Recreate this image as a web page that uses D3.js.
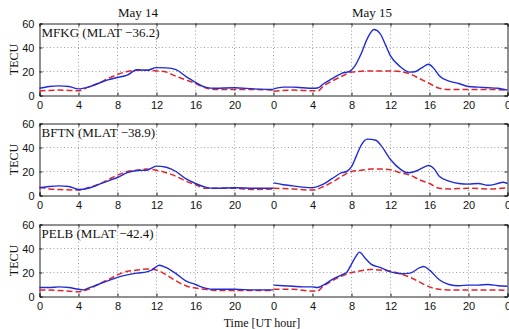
<!DOCTYPE html>
<html><head><meta charset="utf-8">
<script src="https://cdn.jsdelivr.net/npm/d3@7"></script>
<style>body{margin:0;background:#fff}svg{display:block}</style>
</head><body>
<script>
const stations = ["MFKG (MLAT \u221236.2)", "BFTN (MLAT \u221238.9)", "PELB (MLAT \u221242.4)"];
const dayLabels = ["May 14", "May 15"];
const xTickHours = [0,4,8,12,16,20,24,28,32,36,40,44,48];
const yTicks = [0,20,40,60];

// [hour within day, TECU]
const mfkgObsD1 = [[0,6],[1,7.5],[2,8],[3,7.5],[4,5.5],[5,7],[6,10],[7,13],[8,15],[9,17],[10,21.5],[11,21],[12,23.2],[13,23],[14,21.5],[15,16],[16,11],[17,7],[18,6],[20,6.5],[22,5.5],[24,5]];
const mfkgMedD1 = [[0,3.8],[2,4.5],[4,4],[5,7],[6,10],[7,14],[8,17.5],[9,20],[10,21],[11,21],[12,20.5],[13,19.5],[14,16],[15,13],[16,10],[17,6.5],[18,5],[20,5],[22,5],[24,4.5]];
const mfkgObsD2 = [[0,5.5],[1,7],[2,7],[3,6.5],[4,6],[4.6,6.5],[5,9],[6,14],[7,18.5],[7.8,20],[8.3,24],[9,35],[9.6,47],[10.3,55],[10.9,52],[11.5,42],[12,33],[13,24],[14,19.5],[14.5,19.8],[15.2,23],[15.9,26],[16.5,22],[17,16.5],[18,12],[19,10],[20,7.5],[21,7],[22,6.5],[23,6],[24,4.5]];
const mfkgMedD2 = [[0,3.6],[2,4.5],[4,4],[4.6,4],[5,7],[6,12],[7,16],[8,19.5],[10,20.5],[12,20.5],[13,20],[14,18],[15,14],[16,10],[17,6],[18,5],[20,5],[22,5],[24,4.5]];

const bftnObsD1 = [[0,6.3],[1,7.5],[2,8],[3,7.5],[4,5],[5,6],[6,9],[7,12],[8,15],[9,19],[10,20.8],[11,21],[12,24.5],[13,23.5],[14,20],[15,14],[16,10],[17,7],[18,6],[20,6.5],[22,6],[24,6]];
const bftnMedD1 = [[0,7],[1,5.5],[2,5],[4,4.5],[5,6.5],[6,9],[7,13],[8,17],[9,20],[10,21],[11,22],[12,21],[13,19],[14,16],[15,12],[16,9],[17,6],[18,6],[20,6],[22,5],[24,5.5]];
const bftnObsD2 = [[0,10.5],[1,9],[2,8],[3,7],[4,6.5],[5,9],[6,14],[7,19],[7.5,20],[8,24],[8.5,33],[9,42],[9.6,47],[10.5,46],[11,42],[12,30],[13,22],[13.7,19],[14.5,20],[15.3,23],[15.9,25],[16.5,22],[17,16],[18,12],[19,10],[20,9.5],[21,10],[22,8.5],[23,10],[23.5,11],[24,10]];
const bftnMedD2 = [[0,6],[2,5.5],[4,4.5],[5,7],[6,11],[7,16],[8,20],[9,21],[10,22],[11,22],[12,21.5],[13,19],[14,17],[15,13],[16,10],[17,6],[18,5.5],[20,6],[22,5.5],[24,6.5]];

const pelbObsD1 = [[0,7.5],[1,7.5],[2,8],[3,7.5],[4,6],[4.5,5.5],[5,7],[6,10],[7,13],[8,16],[9,18],[10,19.5],[11,20.5],[11.5,22],[12.3,26],[13,24],[14,19],[15,13],[16,10],[17,7],[18,6],[20,6],[22,5.5],[24,5.5]];
const pelbMedD1 = [[0,5.5],[2,5],[4,4],[5,6],[6,10],[7,14],[8,18],[9,21],[10,22],[11,23],[12,22],[13,18],[14,13],[15,9],[16,7],[17,6],[18,5],[20,5],[22,5],[24,5]];
const pelbObsD2 = [[0,9.5],[1,9],[2,8.5],[3,8],[4,8],[4.5,7.5],[5,9],[6,14],[7,18],[7.5,20],[8,27],[8.5,34],[8.8,37],[9.5,31],[10,27],[11,24],[12,20.5],[13,19],[14,19.5],[15,24],[15.4,25],[16,22],[17,14],[18,10],[19,9],[20,9.5],[21,9.5],[22,10],[23,9],[24,8.5]];
const pelbMedD2 = [[0,6],[2,6],[4,4.5],[4.5,4.5],[5,8],[6,13],[7,17],[8,20],[9,21.5],[10,22.5],[11,22],[12,21],[13,19],[14,16],[15,12],[16,8],[17,6],[18,5.5],[20,5.5],[22,5.5],[24,5]];

const observed = [[mfkgObsD1, mfkgObsD2],[bftnObsD1, bftnObsD2],[pelbObsD1, pelbObsD2]];
const median = [[mfkgMedD1, mfkgMedD2],[bftnMedD1, bftnMedD2],[pelbMedD1, pelbMedD2]];

const W = 509, H = 329;
const left = 39.5, right = 507.5;
const panelTops = [23.5, 123.5, 224.5];
const panelH = 72;

const svg = d3.select("body").append("svg").attr("width", W).attr("height", H);
const x = d3.scaleLinear().domain([0,48]).range([left,right]);

const serif = "Liberation Serif, Times New Roman, serif";
const sans = "Liberation Sans, Arial, sans-serif";

dayLabels.forEach((d,i)=>{
  svg.append("text").attr("x", x(i*24+10.1)).attr("y", 17).attr("text-anchor","middle")
    .attr("font-family", serif).attr("font-size", 13).attr("fill","#111").text(d);
});

stations.forEach((name, p) => {
  const top = panelTops[p];
  const y = d3.scaleLinear().domain([0,60]).range([top+panelH, top]);
  const g = svg.append("g");
  // grid
  g.selectAll(".vg").data(xTickHours.slice(1,-1)).join("line")
    .attr("x1", d=>x(d)).attr("x2", d=>x(d)).attr("y1", top).attr("y2", top+panelH)
    .attr("stroke", "#888").attr("stroke-width", 0.8).attr("stroke-dasharray", "1,2.5");
  g.selectAll(".hg").data([20,40]).join("line")
    .attr("x1", left).attr("x2", right).attr("y1", d=>y(d)).attr("y2", d=>y(d))
    .attr("stroke", "#888").attr("stroke-width", 0.8).attr("stroke-dasharray", "1,2.5");
  // axes
  const xb = g.append("g").attr("transform", `translate(0,${top+panelH})`)
    .call(d3.axisBottom(x).tickValues(xTickHours).tickSize(-3).tickPadding(6).tickFormat(d=>String(d%24)));
  const xt = g.append("g").attr("transform", `translate(0,${top})`)
    .call(d3.axisTop(x).tickValues(xTickHours).tickSize(-3).tickFormat(""));
  const yl = g.append("g").attr("transform", `translate(${left},0)`)
    .call(d3.axisLeft(y).tickValues(yTicks).tickSize(-3).tickPadding(5));
  const yr = g.append("g").attr("transform", `translate(${right},0)`)
    .call(d3.axisRight(y).tickValues(yTicks).tickSize(-3).tickFormat(""));
  [xb,xt,yl,yr].forEach(a=>{
    a.selectAll("path").attr("stroke","#222").attr("stroke-width",1);
    a.selectAll("line").attr("stroke","#222");
    a.selectAll("text").attr("font-family", sans).attr("font-size", 11).attr("fill","#111");
  });
  // data lines
  const line = d3.line().x(d=>x(d[0])).y(d=>y(d[1])).curve(d3.curveMonotoneX);
  [0,1].forEach(day => {
    g.append("path").datum(median[p][day].map(d=>[d[0]+day*24, d[1]]))
      .attr("d", line).attr("fill","none").attr("stroke","#e0262b").attr("stroke-width",1.5)
      .attr("stroke-dasharray","6,3");
    g.append("path").datum(observed[p][day].map(d=>[d[0]+day*24, d[1]]))
      .attr("d", line).attr("fill","none").attr("stroke","#1f2bd6").attr("stroke-width",1.4);
  });
  g.append("text").attr("x", left+2).attr("y", top+13).attr("font-family", serif)
    .attr("font-size", 13).attr("fill","#111").text(name);
  svg.append("text").attr("transform", `translate(18,${top+panelH/2}) rotate(-90)`)
    .attr("text-anchor","middle").attr("font-family", serif).attr("font-size", 12).attr("fill","#111").text("TECU");
});

svg.append("text").attr("x", 262).attr("y", 327).attr("text-anchor","middle")
  .attr("font-family", serif).attr("font-size", 12).attr("fill","#111").text("Time [UT hour]");
</script>
</body></html>
